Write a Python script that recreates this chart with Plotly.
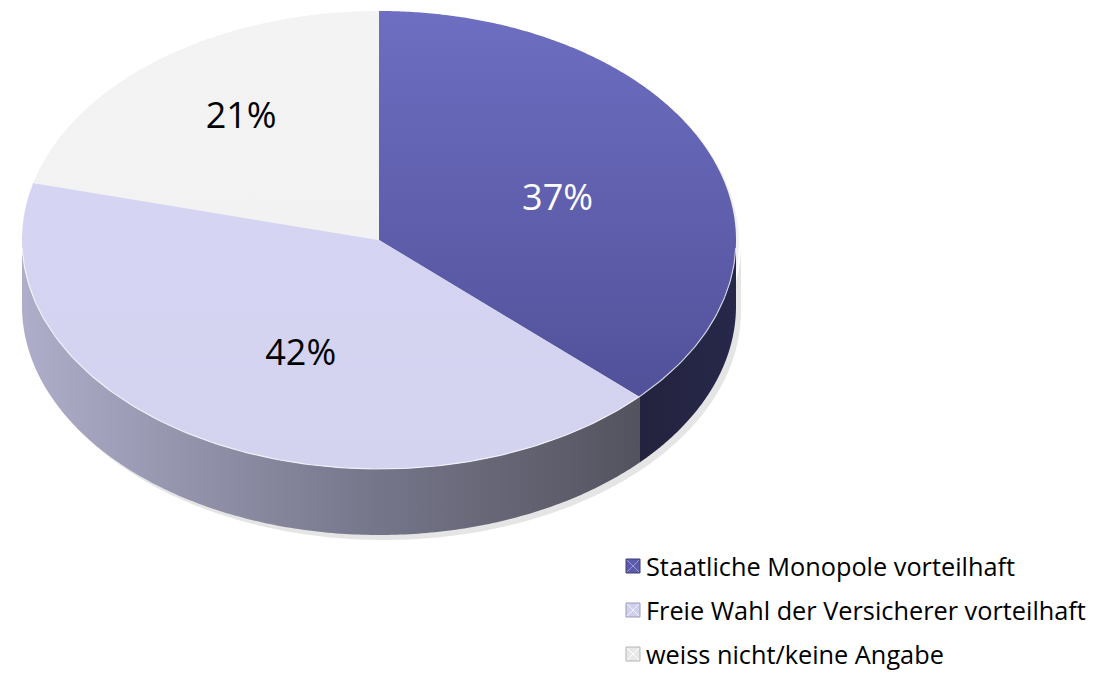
import numpy as np
import plotly.graph_objects as go

# ---- data ----
categories = ["Staatliche Monopole vorteilhaft",
              "Freie Wahl der Versicherer vorteilhaft",
              "weiss nicht/keine Angabe"]
values = [37, 42, 21]
labels = ["37%", "42%", "21%"]

# ---- style / geometry ----
W, H = 1097, 685
OFF = 8                    # default body margin of the html page
cx, cy = 379, 240          # centre of top face (page px)
ra, rb = 357, 229          # semi-axes of top face
depth = 66                 # thickness of the pie
top_grad = [
    [[0, "#51519a"], [1, "#6e6ec2"]],
    [[0, "#d3d3f0"], [1, "#d5d5f3"]],
    [[0, "#f2f2f2"], [1, "#f3f3f3"]],
]
side_grad = [
    [[0, "#23233e"], [1, "#27274a"]],
    [[0, "#aeaeca"], [0.5, "#7c7c92"], [1, "#53535f"]],
    [[0, "#c8c8c8"], [1, "#a0a0a0"]],
]
legend_colors = ["#5b5baa", "#cfcfee", "#e8e8e8"]
legend_edges = ["#3e3e78", "#9c9cb8", "#b4b4b4"]
legend_x_lines = ["#9a9ad8", "#f4f4ff", "#ffffff"]
label_colors = ["white", "black", "black"]
label_r = [(0.545, 0.475), (0.455, 0.56), (0.63, 0.69)]
label_dy = 4
font = "Open Sans"


def pt(theta_deg, r=1.0, dy=0.0):
    t = np.radians(theta_deg)
    return cx + ra * r * np.sin(t), cy - rb * r * np.cos(t) + dy


fig = go.Figure()

total = sum(values)
bounds = np.cumsum([0] + values) / total * 360.0

# soft shadow
th = np.linspace(0, 360, 361)
sx, sy = pt(th)
front = np.linspace(90, 270, 181)
fx, fy = pt(front)
fig.add_trace(go.Scatter(x=np.concatenate([fx + 5, fx[::-1] + 5]),
                         y=np.concatenate([fy + 4, fy[::-1] + depth + 5]),
                         fill="toself", mode="none", fillcolor="rgba(0,0,0,0.10)",
                         hoverinfo="skip", showlegend=False))
fig.add_trace(go.Scatter(x=sx + 3, y=sy + 3, fill="toself", mode="none",
                         fillcolor="rgba(0,0,0,0.06)", hoverinfo="skip", showlegend=False))

# side walls (visible front half: 90..270 degrees)
for i in range(len(values)):
    a0, a1 = max(bounds[i], 90), min(bounds[i + 1], 270)
    if a1 <= a0:
        continue
    t = np.linspace(a0, a1, 200)
    x, y = pt(t)
    xs = np.concatenate([x, x[::-1]])
    ys = np.concatenate([y, y[::-1] + depth])
    fig.add_trace(go.Scatter(x=xs, y=ys, fill="toself", mode="none",
                             fillgradient=dict(type="horizontal", colorscale=side_grad[i]),
                             hoverinfo="skip", showlegend=False))

# top faces
for i in range(len(values)):
    t = np.linspace(bounds[i], bounds[i + 1], 300)
    x, y = pt(t)
    xs = np.concatenate([[cx], x, [cx]])
    ys = np.concatenate([[cy], y, [cy]])
    fig.add_trace(go.Scatter(x=xs, y=ys, fill="toself", mode="none",
                             fillgradient=dict(type="vertical", colorscale=top_grad[i]),
                             name=categories[i], hoverinfo="name", showlegend=False))

# highlight on the front edge of the top face
t = np.linspace(92, 268, 200)
x, y = pt(t)
fig.add_trace(go.Scatter(x=x, y=y, mode="lines",
                         line=dict(color="rgba(255,255,255,0.7)", width=1.2),
                         hoverinfo="skip", showlegend=False))

# percentage labels
for i in range(len(values)):
    mid = (bounds[i] + bounds[i + 1]) / 2
    tt = np.radians(mid)
    lx = cx + ra * label_r[i][0] * np.sin(tt)
    ly = cy - rb * label_r[i][1] * np.cos(tt) + label_dy
    fig.add_trace(go.Scatter(x=[lx], y=[ly], mode="text", text=[labels[i]],
                             textposition="middle center",
                             textfont=dict(family=font, size=36, color=label_colors[i]),
                             hoverinfo="skip", showlegend=False))

# legend (manual)
leg_x = 633
leg_y0, leg_dy = 566, 44
for i, c in enumerate(categories):
    yy = leg_y0 + i * leg_dy
    fig.add_trace(go.Scatter(x=[leg_x], y=[yy], mode="markers",
                             marker=dict(symbol="square", size=14, color=legend_colors[i],
                                         line=dict(color=legend_edges[i], width=1)),
                             hoverinfo="skip", showlegend=False, cliponaxis=False))
    fig.add_trace(go.Scatter(x=[leg_x], y=[yy], mode="markers",
                             marker=dict(symbol="x-thin", size=12,
                                         line=dict(color=legend_x_lines[i], width=1)),
                             hoverinfo="skip", showlegend=False, cliponaxis=False))
    fig.add_trace(go.Scatter(x=[leg_x + 13], y=[yy + 4], mode="text",
                             text=[c], textposition="middle right",
                             textfont=dict(family=font, size=25.3, color="black"),
                             hoverinfo="skip", showlegend=False, cliponaxis=False))

fig.update_layout(
    width=W, height=H, margin=dict(l=0, r=0, t=0, b=0),
    paper_bgcolor="white", plot_bgcolor="white",
    xaxis=dict(range=[OFF, W + OFF], visible=False, fixedrange=True),
    yaxis=dict(range=[H + OFF, OFF], visible=False, fixedrange=True),
    showlegend=False,
)
fig.write_html("out.html")
